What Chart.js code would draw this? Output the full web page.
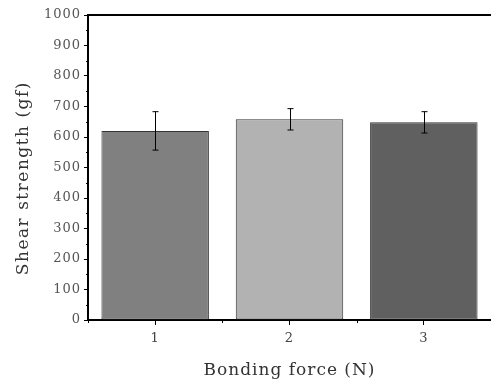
<!DOCTYPE html>
<html>
<head>
<meta charset="utf-8">
<script src="https://cdn.jsdelivr.net/npm/chart.js@4"></script>
<style>
  html, body { margin: 0; padding: 0; background: #fff; }
  #wrap { width: 491px; height: 385px; }
</style>
</head>
<body>
<div id="wrap"><canvas id="shearChart" width="491" height="385"></canvas></div>
<script>
// values
const forces = ['1', '2', '3'];
const shearStrength = [620, 658, 648];
const shearError = [63, 35, 35];
const barColors = ['#808080', '#b2b2b2', '#606060'];
const yTitle = 'Shear strength (gf)';

// error bars, minor ticks, the top frame line and the y title
const extrasPlugin = {
    id: 'extras',
    beforeDraw(chart) {
        // the original font is set wide, spread the letters a bit
        chart.ctx.letterSpacing = '1px';
    },
    afterDatasetsDraw(chart) {
        const ctx = chart.ctx;
        const x = chart.scales.x;
        const y = chart.scales.y;
        const area = chart.chartArea;
        ctx.save();
        ctx.strokeStyle = '#000';
        ctx.lineWidth = 1;

        // error bars
        chart.getDatasetMeta(0).data.forEach((bar, i) => {
            const cx = Math.round(bar.x) + 0.5;
            const top = y.getPixelForValue(shearStrength[i] + shearError[i]);
            const bot = y.getPixelForValue(shearStrength[i] - shearError[i]);
            ctx.beginPath();
            ctx.moveTo(cx, top);
            ctx.lineTo(cx, bot);
            ctx.moveTo(cx - 3, top);
            ctx.lineTo(cx + 3, top);
            ctx.moveTo(cx - 3, bot);
            ctx.lineTo(cx + 3, bot);
            ctx.stroke();
        });

        // minor ticks on y axis
        for (let v = 50; v < 1000; v += 100) {
            const py = Math.round(y.getPixelForValue(v)) + 0.5;
            ctx.beginPath();
            ctx.moveTo(area.left - 2, py);
            ctx.lineTo(area.left, py);
            ctx.stroke();
        }

        // minor ticks on x axis, between categories
        for (let i = 0; i <= forces.length; i++) {
            const px = Math.round(x.getPixelForValue(i - 0.5)) + 0.5;
            ctx.beginPath();
            ctx.moveTo(px, area.bottom);
            ctx.lineTo(px, area.bottom + 3);
            ctx.stroke();
        }

        // top frame line
        ctx.lineWidth = 2;
        ctx.beginPath();
        ctx.moveTo(area.left, area.top);
        ctx.lineTo(area.right, area.top);
        ctx.stroke();

        // y axis title, sits a little below the middle in the original
        ctx.translate(24, y.getPixelForValue(465));
        ctx.rotate(-Math.PI / 2);
        ctx.letterSpacing = '1.5px';
        ctx.font = '17px "DejaVu Serif"';
        ctx.fillStyle = '#333';
        ctx.textAlign = 'center';
        ctx.textBaseline = 'middle';
        ctx.fillText(yTitle, 0, 0);
        ctx.restore();
    }
};

const ctx = document.getElementById('shearChart').getContext('2d');
window.shearChart = new Chart(ctx, {
    type: 'bar',
    data: {
        labels: forces,
        datasets: [{
            data: shearStrength,
            backgroundColor: barColors,
            borderColor: '#333',
            borderWidth: 1,
            borderSkipped: false,
            categoryPercentage: 1.0,
            barPercentage: 0.8
        }]
    },
    options: {
        responsive: false,
        animation: false,
        layout: { padding: { top: 15, right: 0, left: 0, bottom: 0 } },
        plugins: {
            legend: { display: false },
            tooltip: { enabled: false }
        },
        scales: {
            x: {
                grid: {
                    display: true,
                    drawOnChartArea: false,
                    drawTicks: true,
                    tickLength: 5,
                    offset: false,
                    color: '#000'
                },
                border: { display: true, color: '#000', width: 2 },
                ticks: {
                    color: '#444',
                    padding: 6,
                    font: { family: 'DejaVu Serif', size: 13 }
                },
                title: {
                    display: true,
                    text: 'Bonding force (N)',
                    color: '#333',
                    padding: { top: 6 },
                    font: { family: 'DejaVu Serif', size: 17 }
                },
                afterFit(scale) { scale.height = 65; }
            },
            y: {
                min: 0,
                max: 1000,
                grid: {
                    display: true,
                    drawOnChartArea: false,
                    drawTicks: true,
                    tickLength: 4,
                    color: '#000'
                },
                border: { display: true, color: '#000', width: 2 },
                ticks: {
                    stepSize: 100,
                    color: '#555',
                    padding: 3,
                    font: { family: 'DejaVu Serif', size: 13 },
                    callback: v => String(v)
                },
                title: { display: false },
                afterFit(scale) { scale.width = 88; }
            }
        }
    },
    plugins: [extrasPlugin]
});
</script>
</body>
</html>
